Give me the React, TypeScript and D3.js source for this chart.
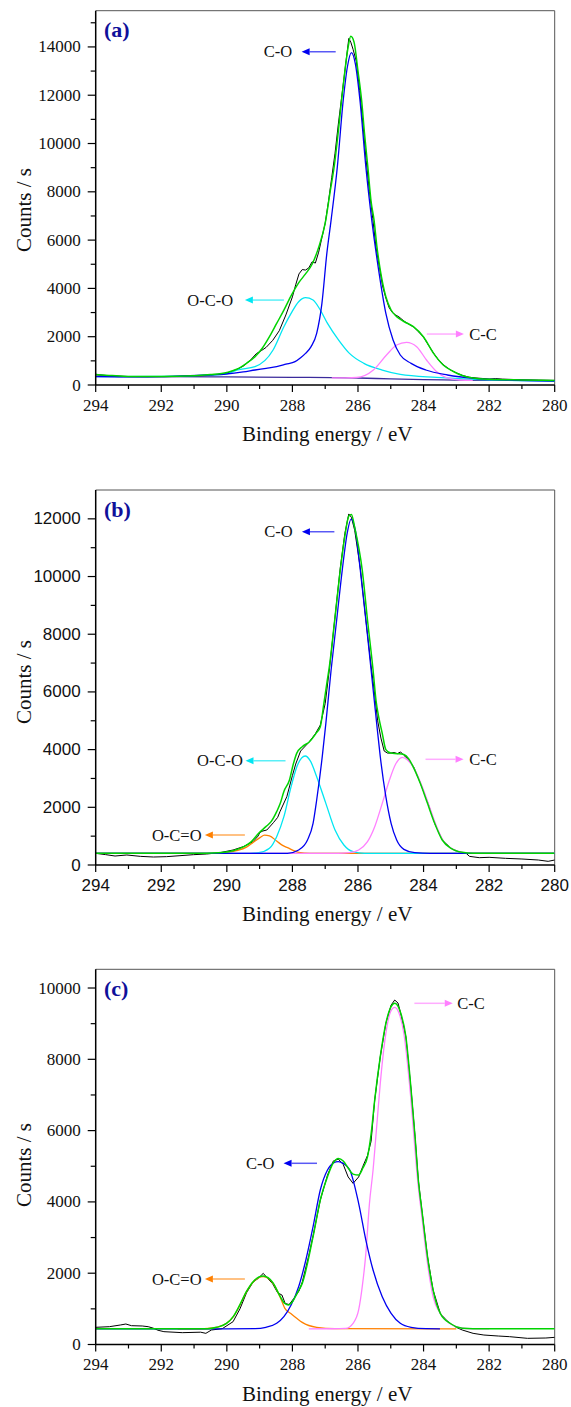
import React from 'react';
import * as d3 from 'd3';

type Pt = [number, number];

// ---------- shared axis values ----------
const energyMajor = [294, 292, 290, 288, 286, 284, 282, 280];
const energyMinor = [293, 291, 289, 287, 285, 283, 281];

const aYMajor = [0, 2000, 4000, 6000, 8000, 10000, 12000, 14000];
const aYMinor = [1000, 3000, 5000, 7000, 9000, 11000, 13000, 15000];
const bYMajor = [0, 2000, 4000, 6000, 8000, 10000, 12000];
const bYMinor = [1000, 3000, 5000, 7000, 9000, 11000];
const cYMajor = [0, 2000, 4000, 6000, 8000, 10000];
const cYMinor = [1000, 3000, 5000, 7000, 9000];

// ---------- panel (a) ----------
const aRaw: Pt[] = [[294,420],[293.5,380],[293,350],[292.5,345],[292,345],[291.5,350],[291,360],[290.5,400],[290.2,450],[290,490],[289.7,640],[289.5,780],[289.3,1000],[289.1,1300],[288.95,1420],[288.8,1560],[288.6,1850],[288.4,2250],[288.2,2900],[288.0,3650],[287.9,4150],[287.8,4600],[287.7,4780],[287.6,4760],[287.5,4850],[287.4,5100],[287.3,5050],[287.2,5500],[287.1,6100],[287.0,6700],[286.9,7600],[286.8,8600],[286.7,9600],[286.6,10800],[286.5,11900],[286.4,13000],[286.32,13900],[286.28,14350],[286.22,14200],[286.15,13900],[286.05,13400],[285.95,12200],[285.85,10800],[285.75,9300],[285.65,8000],[285.55,6900],[285.45,5700],[285.35,4900],[285.25,4100],[285.15,3600],[285.05,3200],[284.95,3000],[284.85,2900],[284.75,2820],[284.6,2650],[284.45,2520],[284.3,2400],[284.15,2200],[284.0,1980],[283.85,1650],[283.7,1330],[283.55,1050],[283.4,840],[283.2,640],[283.0,500],[282.8,390],[282.6,320],[282.4,290],[282.2,270],[282.0,245],[281.8,265],[281.6,245],[281.3,230],[281.0,215],[280.5,200],[280,190]];
const aFit: Pt[] = [[294,440],[293.5,390],[293,355],[292,355],[291,380],[290.5,430],[290,520],[289.7,650],[289.4,900],[289.14,1170],[288.92,1520],[288.7,2000],[288.48,2550],[288.26,3100],[288.03,3720],[287.8,4250],[287.6,4600],[287.4,5000],[287.2,5700],[287.0,6700],[286.85,8000],[286.72,9100],[286.6,10500],[286.5,11800],[286.4,13000],[286.3,14000],[286.22,14440],[286.12,14200],[286.0,13000],[285.89,11800],[285.8,10400],[285.7,9030],[285.6,7600],[285.51,6830],[285.42,5700],[285.32,4760],[285.15,3660],[284.99,3105],[284.82,2830],[284.6,2630],[284.31,2414],[284.0,1990],[283.7,1320],[283.4,830],[283.09,560],[282.8,380],[282.5,290],[282.0,240],[281.0,210],[280,190]];
const aCO: Pt[] = [[294,345],[293,340],[292,345],[291.36,372],[290.5,420],[290.03,455],[289.5,540],[289.14,621],[288.8,690],[288.48,760],[288.2,860],[287.92,966],[287.75,1130],[287.6,1311],[287.43,1587],[287.26,2139],[287.1,3380],[286.95,5450],[286.82,6830],[286.63,9034],[286.45,11794],[286.32,13200],[286.2,13768],[286.08,13300],[285.94,11794],[285.76,9034],[285.58,6830],[285.37,4760],[285.15,2967],[284.93,1863],[284.71,1242],[284.38,897],[283.93,621],[283.27,414],[282.49,276],[281.38,207],[280,166]];
const aOCO: Pt[] = [[294,345],[292,360],[291,390],[290.03,455],[289.7,621],[289.14,759],[288.59,1449],[288.26,2415],[288.04,2967],[287.81,3450],[287.6,3616],[287.37,3519],[287.15,3105],[286.93,2553],[286.59,1863],[286.26,1311],[285.82,897],[285.26,621],[284.71,442],[283.6,317],[282.49,235],[280,166]];
const aCC: Pt[] = [[286.8,292],[286.4,296],[286.04,310],[285.53,620],[285.13,1241],[284.82,1655],[284.52,1767],[284.21,1586],[283.91,1035],[283.6,552],[283.3,302],[282.89,207],[282.5,195]];
const aBackground: Pt[] = [[294,440],[293.3,350],[292,345],[290,335],[288,318],[286,290],[285,250],[284,220],[283,205],[282,195],[280,180]];

// ---------- panel (b) ----------
const bRaw: Pt[] = [[294,404],[293.7,360],[293.41,312],[293.05,347],[292.64,300],[292.24,277],[291.84,289],[291.43,323],[291.02,358],[290.62,381],[290.21,427],[289.81,520],[289.5,635],[289.2,809],[289.05,1000],[288.99,1130],[288.9,1180],[288.78,1213],[288.58,1467],[288.45,1650],[288.38,1849],[288.17,2369],[288.0,3100],[287.9,3500],[287.75,3950],[287.5,4250],[287.3,4550],[287.15,4850],[287.0,5600],[286.87,6800],[286.71,8500],[286.54,10300],[286.4,11500],[286.28,12170],[286.2,12050],[286.1,11600],[285.93,10300],[285.76,8500],[285.6,6900],[285.5,6000],[285.4,5000],[285.3,4400],[285.2,3950],[285.1,3880],[285.0,3880],[284.9,3900],[284.8,3860],[284.7,3920],[284.6,3800],[284.5,3700],[284.3,3400],[284.1,2850],[283.95,2400],[283.85,2100],[283.66,1444],[283.43,867],[283.16,578],[282.9,440],[282.7,404],[282.6,300],[282.3,254],[282,266],[281.5,231],[281,208],[280.5,173],[280.2,127],[280,173]];
const bFit: Pt[] = [[294,404],[291,404],[290.25,427],[289.81,497],[289.48,635],[289.25,809],[289.03,1098],[288.81,1329],[288.65,1502],[288.48,1850],[288.37,2137],[288.26,2550],[288.09,2946],[287.98,3466],[287.87,3871],[287.7,4102],[287.48,4275],[287.28,4564],[287.15,4795],[287.04,5604],[286.95,6300],[286.87,6900],[286.71,8492],[286.54,10225],[286.4,11400],[286.28,12100],[286.2,12155],[286.1,11700],[285.87,10225],[285.71,8492],[285.54,6759],[285.45,5700],[285.37,5142],[285.26,4564],[285.15,4000],[285.0,3880],[284.8,3860],[284.6,3830],[284.45,3680],[284.32,3408],[284.1,2831],[283.88,2137],[283.66,1444],[283.43,867],[283.16,578],[282.82,439],[282.49,404],[280,404]];
const bCO: Pt[] = [[294,400],[288.5,400],[288.15,404],[287.81,520],[287.54,867],[287.37,1444],[287.26,2253],[287.09,3755],[286.98,4910],[286.82,6759],[286.65,8492],[286.48,10225],[286.33,11500],[286.21,11993],[286.08,11600],[285.93,10225],[285.76,8492],[285.6,6759],[285.43,4910],[285.32,3755],[285.15,2369],[284.99,1444],[284.82,867],[284.6,543],[284.27,427],[283.8,400],[280,400]];
const bOCO: Pt[] = [[294,400],[289.5,400],[289.03,427],[288.7,578],[288.48,982],[288.26,1675],[288.04,2715],[287.85,3450],[287.61,3778],[287.45,3600],[287.26,3062],[286.98,2137],[286.7,1213],[286.43,693],[286.15,462],[285.8,405],[280,400]];
const bCC: Pt[] = [[294,400],[286.6,400],[286.26,427],[285.98,520],[285.71,809],[285.49,1329],[285.26,2137],[285.04,2946],[284.85,3500],[284.65,3732],[284.5,3650],[284.32,3408],[284.04,2715],[283.82,2022],[283.6,1329],[283.38,809],[283.1,543],[282.82,439],[282.5,405],[280,400]];
const bOCdO: Pt[] = [[294,400],[290.5,400],[290.03,427],[289.7,497],[289.4,620],[289.2,780],[288.99,950],[288.85,1035],[288.7,1010],[288.48,830],[288.3,680],[288.15,600],[287.81,439],[287.48,404],[280,400]];
const bBaseline: Pt[] = [[294,404],[280,404]];

// ---------- panel (c) ----------
const cRaw: Pt[] = [[294,482],[293.58,500],[293.25,547],[293.08,575],[292.91,528],[292.58,519],[292.4,500],[292.25,460],[292.1,400],[291.92,360],[291.36,332],[290.8,345],[290.64,313],[290.47,407],[290.14,444],[289.81,640],[289.6,1000],[289.4,1450],[289.2,1750],[289.05,1850],[288.89,1996],[288.75,1850],[288.6,1700],[288.45,1450],[288.32,1388],[288.22,1150],[288.1,1120],[287.95,1300],[287.8,1500],[287.7,1750],[287.5,2500],[287.37,3050],[287.15,4050],[286.93,4750],[286.75,5150],[286.6,5200],[286.45,5050],[286.3,4700],[286.15,4520],[285.98,4700],[285.85,5000],[285.71,5300],[285.6,5700],[285.49,6858],[285.32,8073],[285.15,9008],[284.99,9520],[284.88,9663],[284.78,9580],[284.71,9335],[284.54,8634],[284.38,7138],[284.26,5829],[284.16,4614],[284.04,3680],[283.88,2464],[283.71,1529],[283.49,874],[283.3,680],[283.16,575],[283.0,480],[282.82,407],[282.49,313],[282.16,266],[281.72,238],[281.38,220],[280.83,173],[280.27,182],[280,201]];
const cFit: Pt[] = [[294,440],[290.6,440],[290.31,482],[290.01,590],[289.8,790],[289.6,1120],[289.4,1490],[289.19,1770],[288.89,1921],[288.59,1730],[288.38,1360],[288.23,1150],[288.12,1110],[288.0,1200],[287.85,1450],[287.7,1715],[287.37,3025],[287.15,4053],[286.93,4708],[286.75,5100],[286.6,5221],[286.45,5150],[286.3,4950],[286.15,4780],[285.98,4754],[285.85,4950],[285.71,5264],[285.6,5900],[285.49,6858],[285.32,8073],[285.15,9008],[284.99,9476],[284.88,9570],[284.71,9335],[284.54,8634],[284.38,7138],[284.26,5829],[284.16,4614],[284.04,3680],[283.88,2464],[283.71,1529],[283.49,874],[283.16,575],[282.82,453],[282.49,440],[280,440]];
const cCO: Pt[] = [[294,440],[290,440],[289.14,444],[288.81,482],[288.48,594],[288.26,781],[288.04,1108],[287.81,1622],[287.59,2370],[287.37,3305],[287.15,4334],[286.93,4895],[286.75,5090],[286.6,5128],[286.45,5080],[286.25,4895],[285.98,3960],[285.76,2931],[285.54,2090],[285.26,1342],[284.99,874],[284.71,594],[284.38,482],[283.93,444],[283.5,440]];
const cCC: Pt[] = [[287.5,440],[286.8,442],[286.37,453],[286.15,594],[285.98,968],[285.87,1622],[285.76,2557],[285.65,3960],[285.54,4895],[285.43,6110],[285.32,7325],[285.15,8727],[285.0,9350],[284.88,9458],[284.75,9300],[284.6,8727],[284.43,7325],[284.26,5455],[284.21,4895],[284.04,3492],[283.88,2277],[283.71,1342],[283.49,874],[283.21,594],[282.94,482],[282.49,440],[282,440]];
const cOCdO: Pt[] = [[291.5,440],[290.82,440],[290.31,482],[290.01,594],[289.8,781],[289.6,1108],[289.4,1482],[289.19,1762],[288.89,1903],[288.59,1716],[288.38,1342],[288.23,1014],[288.05,870],[287.85,720],[287.7,620],[287.26,482],[286.7,445],[283,440]];

// ---------- annotations ----------
type Note = { label: string; comp: string; textE: number; tailE: number; tipE: number; v: number };
const aNotes: Note[] = [
  { label: 'C-O', comp: 'co', textE: 288.01, tailE: 286.68, tipE: 287.72, v: 13800 },
  { label: 'O-C-O', comp: 'oco', textE: 289.81, tailE: 288.26, tipE: 289.45, v: 3517 },
  { label: 'C-C', comp: 'cc', textE: 282.61, tailE: 283.9, tipE: 282.77, v: 2110 },
];
const bNotes: Note[] = [
  { label: 'C-O', comp: 'co', textE: 287.99, tailE: 286.72, tipE: 287.71, v: 11553 },
  { label: 'O-C-O', comp: 'oco', textE: 289.51, tailE: 288.21, tipE: 289.43, v: 3615 },
  { label: 'C-C', comp: 'cc', textE: 282.61, tailE: 283.94, tipE: 282.78, v: 3664 },
  { label: 'O-C=O', comp: 'ocdo', textE: 290.77, tailE: 289.45, tipE: 290.67, v: 1040 },
];
const cNotes: Note[] = [
  { label: 'C-C', comp: 'cc', textE: 282.97, tailE: 284.28, tipE: 283.11, v: 9571 },
  { label: 'C-O', comp: 'co', textE: 288.55, tailE: 287.25, tipE: 288.27, v: 5083 },
  { label: 'O-C=O', comp: 'ocdo', textE: 290.77, tailE: 289.45, tipE: 290.67, v: 1837 },
];

// ---------- styles ----------
const COLORS: Record<string, string> = {
  raw: '#000000',
  fit: '#00d400',
  co: '#0000f0',
  oco: '#00e6f2',
  cc: '#ff80ff',
  ocdo: '#ff8000',
  bg: '#3b2b9b',
  base: '#a8a8c0',
};
const SERIF = '"Liberation Serif", "Times New Roman", serif';
const SANS = '"Liberation Sans", Arial, sans-serif';

type Curve = { data: Pt[]; kind: string; smooth: boolean };
type PanelCfg = {
  label: string; top: number; bottom: number; yMax: number; yTitleY: number;
  yMajor: number[]; yMinor: number[]; tickFont: string;
  curves: Curve[]; notes: Note[];
};

const PANELS: PanelCfg[] = [
  {
    label: '(a)', top: 10.7, bottom: 385, yMax: 15500, yTitleY: 210, yMajor: aYMajor, yMinor: aYMinor, tickFont: SERIF,
    curves: [
      { data: aRaw, kind: 'raw', smooth: false },
      { data: aBackground, kind: 'bg', smooth: true },
      { data: aOCO, kind: 'oco', smooth: true },
      { data: aCC, kind: 'cc', smooth: true },
      { data: aCO, kind: 'co', smooth: true },
      { data: aFit, kind: 'fit', smooth: true },
    ],
    notes: aNotes,
  },
  {
    label: '(b)', top: 490, bottom: 865, yMax: 13000, yTitleY: 682, yMajor: bYMajor, yMinor: bYMinor, tickFont: SANS,
    curves: [
      { data: bRaw, kind: 'raw', smooth: false },
      { data: bBaseline, kind: 'base', smooth: false },
      { data: bOCdO, kind: 'ocdo', smooth: true },
      { data: bOCO, kind: 'oco', smooth: true },
      { data: bCC, kind: 'cc', smooth: true },
      { data: bCO, kind: 'co', smooth: true },
      { data: bFit, kind: 'fit', smooth: true },
    ],
    notes: bNotes,
  },
  {
    label: '(c)', top: 969.3, bottom: 1344.5, yMax: 10525, yTitleY: 1165, yMajor: cYMajor, yMinor: cYMinor, tickFont: SERIF,
    curves: [
      { data: cRaw, kind: 'raw', smooth: false },
      { data: cOCdO, kind: 'ocdo', smooth: true },
      { data: cCC, kind: 'cc', smooth: true },
      { data: cCO, kind: 'co', smooth: true },
      { data: cFit, kind: 'fit', smooth: true },
    ],
    notes: cNotes,
  },
];

const LEFT = 95.7;
const RIGHT = 554.7;

function Panel({ cfg }: { cfg: PanelCfg }) {
  const x = d3.scaleLinear().domain([294, 280]).range([LEFT, RIGHT]);
  const y = d3.scaleLinear().domain([0, cfg.yMax]).range([cfg.bottom, cfg.top]);
  const mkLine = (smooth: boolean) =>
    d3.line<Pt>().x(d => x(d[0])).y(d => y(d[1])).curve(smooth ? d3.curveMonotoneX : d3.curveLinear);
  const clipId = 'clip' + cfg.label.replace(/[()]/g, '');

  return (
    <g>
      <defs>
        <clipPath id={clipId}>
          <rect x={LEFT} y={cfg.top} width={RIGHT - LEFT} height={cfg.bottom - cfg.top} />
        </clipPath>
      </defs>
      {/* frame (top/right) */}
      <line x1={LEFT} x2={RIGHT} y1={cfg.top} y2={cfg.top} stroke="#555" strokeWidth={1} />
      <line x1={RIGHT} x2={RIGHT} y1={cfg.top} y2={cfg.bottom} stroke="#555" strokeWidth={1} />

      {/* curves */}
      <g clipPath={`url(#${clipId})`}>
        {cfg.curves.map((c, i) => (
          <path key={i} d={mkLine(c.smooth)(c.data) || ''} fill="none"
            stroke={COLORS[c.kind]}
            strokeWidth={c.kind === 'raw' ? 1 : c.kind === 'fit' ? 1.5 : 1.3}
            strokeLinejoin="round" />
        ))}
      </g>

      {/* axes */}
      <line x1={LEFT} x2={LEFT} y1={cfg.top} y2={cfg.bottom} stroke="#000" strokeWidth={1.5} />
      <line x1={LEFT} x2={RIGHT} y1={cfg.bottom} y2={cfg.bottom} stroke="#000" strokeWidth={1.5} />

      {cfg.yMajor.map(t => (
        <g key={'ym' + t}>
          <line x1={LEFT - 8} x2={LEFT} y1={y(t)} y2={y(t)} stroke="#000" strokeWidth={1.2} />
          <text x={LEFT - 15} y={y(t)} textAnchor="end" dominantBaseline="central"
            fontFamily={cfg.tickFont} fontSize={17} fill="#111">{t}</text>
        </g>
      ))}
      {cfg.yMinor.map(t => (
        <line key={'yn' + t} x1={LEFT - 5} x2={LEFT} y1={y(t)} y2={y(t)} stroke="#000" strokeWidth={1.2} />
      ))}
      {energyMajor.map(t => (
        <g key={'xm' + t}>
          <line x1={x(t)} x2={x(t)} y1={cfg.bottom} y2={cfg.bottom + 7} stroke="#000" strokeWidth={1.2} />
          <text x={x(t)} y={cfg.bottom + 20} textAnchor="middle" dominantBaseline="central"
            fontFamily={cfg.tickFont} fontSize={17} fill="#111">{t}</text>
        </g>
      ))}
      {energyMinor.map(t => (
        <line key={'xn' + t} x1={x(t)} x2={x(t)} y1={cfg.bottom} y2={cfg.bottom + 4} stroke="#000" strokeWidth={1.2} />
      ))}

      {/* axis titles */}
      <text x={(LEFT + RIGHT) / 2 + 2} y={cfg.bottom + 49} textAnchor="middle" dominantBaseline="central"
        fontFamily={SERIF} fontSize={21} fill="#111">Binding energy / eV</text>
      <text transform={`translate(24,${cfg.yTitleY}) rotate(-90)`} textAnchor="middle" dominantBaseline="central"
        fontFamily={SERIF} fontSize={21} fill="#111">Counts / s</text>

      {/* panel label */}
      <text x={104} y={cfg.top + 19} dominantBaseline="central" fontFamily={SERIF} fontWeight="bold"
        fontSize={22} fill="#10109a">{cfg.label}</text>

      {/* annotations */}
      {cfg.notes.map((n, i) => {
        const yy = y(n.v);
        const tx = x(n.tipE), sx = x(n.tailE);
        const dir = Math.sign(tx - sx);
        const headL = 8, headW = 3.5;
        const baseX = tx - dir * headL;
        const col = COLORS[n.comp];
        const rightward = dir > 0;
        return (
          <g key={i}>
            <line x1={sx} x2={baseX} y1={yy} y2={yy} stroke={col} strokeWidth={1.5} strokeOpacity={0.65} />
            <polygon points={`${tx},${yy} ${baseX},${yy - headW} ${baseX},${yy + headW}`} fill={col} />
            <text x={x(n.textE)} y={yy} textAnchor={rightward ? 'start' : 'end'} dominantBaseline="central"
              fontFamily={SERIF} fontSize={16.5} fill="#111">{n.label}</text>
          </g>
        );
      })}
    </g>
  );
}

export default function App() {
  return (
    <svg width={571} height={1407} viewBox="0 0 571 1407"
      style={{ position: 'absolute', left: 0, top: 0, background: '#fff', display: 'block' }}>
      <rect x={0} y={0} width={571} height={1407} fill="#fff" />
      {PANELS.map(p => <Panel key={p.label} cfg={p} />)}
    </svg>
  );
}
